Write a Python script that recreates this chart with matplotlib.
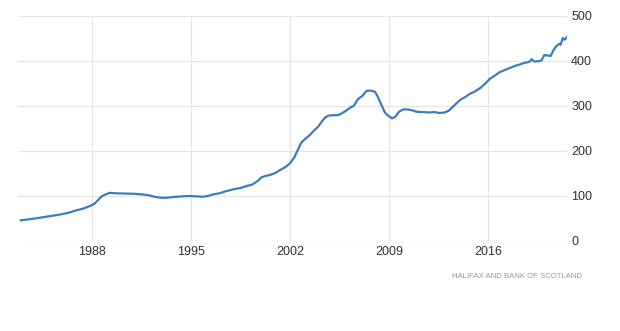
import numpy as np
import matplotlib
matplotlib.use('Agg')
import matplotlib.pyplot as plt

# Halifax house price index (decimal year, index value)
years = [1983.0, 1984.0, 1984.6, 1985.2, 1985.8, 1986.4, 1986.9, 1987.4, 1987.9,
         1988.2, 1988.45, 1988.7, 1989.0, 1989.3, 1989.8, 1990.5, 1991.0, 1991.6,
         1992.0, 1992.5, 1993.0, 1993.4, 1993.8, 1994.5, 1995.0, 1995.5, 1995.9,
         1996.3, 1996.6, 1997.0, 1997.5, 1998.0, 1998.5, 1999.0, 1999.3, 1999.7,
         2000.0, 2000.3, 2000.6, 2001.0, 2001.3, 2001.7, 2002.0, 2002.3, 2002.6,
         2002.8, 2003.1, 2003.4, 2003.7, 2004.0, 2004.2, 2004.45, 2004.7, 2005.0,
         2005.4, 2005.7, 2006.0, 2006.3, 2006.5, 2006.8, 2007.1, 2007.4, 2007.7,
         2008.0, 2008.2, 2008.45, 2008.7, 2009.0, 2009.2, 2009.45, 2009.7, 2010.0,
         2010.3, 2010.6, 2010.9, 2011.2, 2011.5, 2011.84, 2012.2, 2012.55, 2012.9,
         2013.2, 2013.5, 2013.8, 2014.1, 2014.4, 2014.7, 2015.0, 2015.4, 2015.8,
         2016.1, 2016.4, 2016.8, 2017.1, 2017.5, 2017.8, 2018.2, 2018.5, 2018.9,
         2019.05, 2019.2, 2019.5, 2019.75, 2019.95, 2020.2, 2020.4, 2020.6, 2020.8,
         2021.0, 2021.1, 2021.25, 2021.37, 2021.55]
index_values = [45, 49, 52, 55, 58, 62, 67, 71, 77,
                82, 90, 98, 103, 106, 105, 104.5, 104, 102.5,
                101, 97, 95, 95.5, 97, 98.5, 99, 98, 97.5,
                100, 103, 105, 110, 114, 117, 122, 124, 132,
                141, 144, 146, 151, 157, 164, 172, 185, 205,
                218, 227, 235, 245, 254, 263, 273, 278, 279,
                279, 284, 290, 297, 300, 315, 322, 333, 334,
                331, 320, 302, 285, 276, 272, 276, 287, 292,
                292, 290, 287, 286, 286, 285, 286, 284, 285,
                289, 298, 307, 315, 320, 327, 331, 339, 350,
                360, 366, 375, 379, 384, 388, 392, 395, 398,
                404, 399, 399, 401, 413, 412, 411, 424, 433,
                438, 436, 451, 447, 453]

year_ticks = [1988, 1995, 2002, 2009, 2016]
value_ticks = [0, 100, 200, 300, 400, 500]
source = 'HALIFAX AND BANK OF SCOTLAND'

plt.rcParams['font.family'] = ['Liberation Sans Narrow', 'Liberation Sans', 'DejaVu Sans']

fig = plt.figure(figsize=(6.2, 3.31), dpi=100)
ax = fig.add_axes([0.029, 0.2734, 0.8855, 0.6783])

ax.plot(years, index_values, '-', color='#3b7dbd', linewidth=1.6, solid_joinstyle='round')

ax.set_xlim(1982.8, 2021.55)
ax.set_ylim(0, 500)
ax.set_xticks(year_ticks)
ax.set_yticks(value_ticks)
ax.yaxis.tick_right()
ax.tick_params(axis='both', length=0, labelsize=9, colors='#333333')
ax.tick_params(axis='y', pad=3)
ax.tick_params(axis='x', pad=4)
ax.grid(True, color='#e6e6e6', linewidth=0.9)
ax.set_axisbelow(True)
for s in ax.spines.values():
  s.set_visible(False)

fig.text(0.734, 0.166, "'", fontsize=5, color='#bbbbbb', ha='left', va='center')
fig.text(0.939, 0.166, source, fontsize=5.6, color='#999999', ha='right', va='center')

fig.savefig('out.png', dpi=100)
